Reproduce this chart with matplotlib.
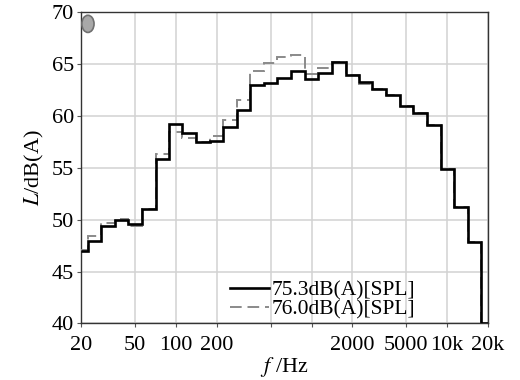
import numpy as np
import matplotlib
matplotlib.use("Agg")
import matplotlib.pyplot as plt
from matplotlib.patches import Ellipse

plt.rcParams['font.family'] = ['Liberation Serif', 'DejaVu Serif']
plt.rcParams['mathtext.fontset'] = 'stix'

# 1/3 octave band centre frequencies (Hz)
bands = [20, 25, 31.5, 40, 50, 63, 80, 100, 125, 160, 200, 250, 315, 400, 500,
         630, 800, 1000, 1250, 1600, 2000, 2500, 3150, 4000, 5000, 6300, 8000,
         10000, 12500, 16000, 20000]

level_a = [47.0, 47.9, 49.4, 50.0, 49.6, 51.0, 55.8, 59.2, 58.3, 57.5, 57.6,
           58.9, 60.5, 62.9, 63.1, 63.6, 64.3, 63.5, 64.1, 65.2, 63.9, 63.2,
           62.6, 62.0, 60.9, 60.3, 59.1, 54.9, 51.2, 47.8, 40.0]
level_b = [47.1, 48.4, 49.7, 50.1, 49.4, 51.0, 56.3, 58.4, 57.8, 57.5, 58.0,
           59.6, 61.5, 64.3, 65.1, 65.6, 65.8, 64.0, 64.6, 65.2, 63.9, 63.0,
           62.6, 62.0, 60.9, 60.3, 59.1, 54.9, 51.2, 47.8, 40.0]
label_a = "75.3dB(A)[SPL]"
label_b = "76.0dB(A)[SPL]"

xticks = [20, 50, 100, 200, 500, 1000, 2000, 5000, 10000, 20000]
xticklabels = ["20", "50", "100", "200", "", "", "2000", "5000", "10k", "20k"]

f = np.array(bands, dtype=float)
edges = np.concatenate([[f[0]], np.sqrt(f[:-1] * f[1:]), [f[-1]]])

fig = plt.figure(figsize=(5.2, 3.8), dpi=100)
ax = fig.add_axes([0.1558, 0.1487, 0.7827, 0.8205])

h_b = ax.stairs(level_b, edges, baseline=None, color='#8a8a8a', lw=1.4,
                linestyle=(0, (6, 3)), label=label_b, zorder=3)
h_a = ax.stairs(level_a, edges, baseline=None, color='black', lw=1.9,
                label=label_a, zorder=4)

ax.set_xscale('log')
ax.set_xlim(20, 20000)
ax.set_ylim(40, 70)
ax.set_xticks(xticks)
ax.set_xticklabels(xticklabels)
ax.xaxis.set_minor_locator(matplotlib.ticker.NullLocator())
ax.set_yticks(range(40, 71, 5))
ax.grid(True, color='#d2d2d2', lw=1.1)
ax.set_axisbelow(True)
ax.tick_params(labelsize=16, length=3, width=0.8, color='#555555')
ax.tick_params(axis='x', pad=6)
ax.tick_params(axis='y', pad=2)
for s in ax.spines.values():
    s.set_linewidth(1.0)
    s.set_color('#333333')

ax.set_ylabel('$L$/dB(A)', fontsize=16, labelpad=4)
ax.set_xlabel('$f$ /Hz', fontsize=16, labelpad=0)

ax.add_patch(Ellipse((0.017, 0.961), 0.03, 0.055, transform=ax.transAxes,
                     facecolor='#a8a8a8', edgecolor='#707070', lw=1.2, zorder=5))

ax.legend([h_a, h_b], [label_a, label_b], loc='lower left',
          bbox_to_anchor=(0.33, -0.035), frameon=False,
          fontsize=15.5, handlelength=1.8, handletextpad=0.1,
          labelspacing=-0.05, borderpad=0.2)

fig.savefig('out.png', dpi=100)
